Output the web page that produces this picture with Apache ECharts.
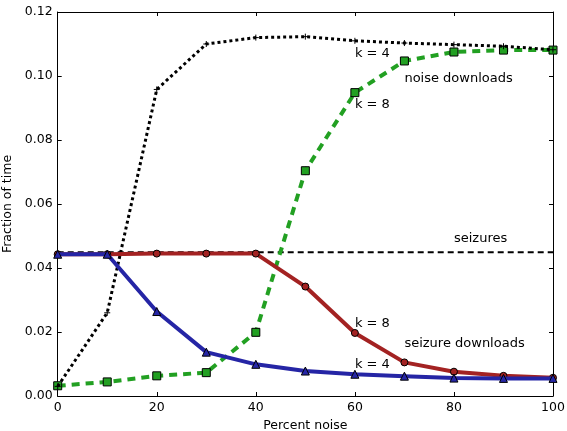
<!DOCTYPE html>
<html>
<head>
<meta charset="utf-8">
<script src="https://cdn.jsdelivr.net/npm/echarts@6/dist/echarts.min.js"></script>
<style>
html,body{margin:0;padding:0;background:#fff;}
#chart{width:567px;height:431px;}
</style>
</head>
<body>
<div id="chart"></div>
<script>
// ---- data ----
const percentNoise = [0, 10, 20, 30, 40, 50, 60, 70, 80, 90, 100];
const noiseDownloadsK4 = [0.0030, 0.0260, 0.0958, 0.1100, 0.1120, 0.1123, 0.1110, 0.1103, 0.1098, 0.1093, 0.1082];
const noiseDownloadsK8 = [0.0032, 0.0044, 0.0063, 0.0073, 0.0199, 0.0704, 0.0948, 0.1047, 0.1075, 0.1081, 0.1081];
const seizureDownloadsK8 = [0.0443, 0.0443, 0.0445, 0.0445, 0.0445, 0.0342, 0.0197, 0.0105, 0.0076, 0.0063, 0.0057];
const seizureDownloadsK4 = [0.0443, 0.0443, 0.0264, 0.0137, 0.0099, 0.0078, 0.0068, 0.0062, 0.0056, 0.0055, 0.0055];
const seizuresLevel = [0.0449, 0.0449];
const seizuresX = [0, 100];
const annotations = [
  {text: 'k = 4', x: 60, y: 0.1050},
  {text: 'noise downloads', x: 70, y: 0.0972},
  {text: 'k = 8', x: 60, y: 0.0890},
  {text: 'seizures', x: 80, y: 0.0470},
  {text: 'k = 8', x: 60, y: 0.0207},
  {text: 'seizure downloads', x: 70, y: 0.0142},
  {text: 'k = 4', x: 60, y: 0.0078}
];

const FONT = 'DejaVu Sans';
const pairs = (xs, ys) => xs.map((x, i) => [x, ys[i]]);
const plusPath = 'path://M0,5L10,5M5,0L5,10';

const chart = echarts.init(document.getElementById('chart'), null, {renderer: 'canvas'});

const axisCommon = {
  axisLine: {show: true, onZero: false, lineStyle: {color: '#000', width: 1}},
  axisTick: {show: true, inside: true, length: 4, lineStyle: {color: '#000', width: 1}},
  splitLine: {show: false}
};

const option = {
  animation: false,
  backgroundColor: '#fff',
  grid: {left: 57.7, right: 14, top: 12, bottom: 35, containLabel: false, outerBoundsMode: 'none'},
  xAxis: [
    Object.assign({}, axisCommon, {
      type: 'value', min: 0, max: 100, interval: 20, position: 'bottom',
      name: 'Percent noise', nameLocation: 'middle', nameGap: 16,
      nameTextStyle: {fontFamily: FONT, fontSize: 12.5, color: '#000'},
      axisLabel: {fontFamily: FONT, fontSize: 12.5, color: '#000', margin: 5}
    }),
    Object.assign({}, axisCommon, {
      type: 'value', min: 0, max: 100, interval: 20, position: 'top',
      axisLabel: {show: false}
    })
  ],
  yAxis: [
    Object.assign({}, axisCommon, {
      type: 'value', min: 0, max: 0.12, interval: 0.02, position: 'left',
      name: 'Fraction of time', nameLocation: 'middle', nameGap: 28,
      nameTextStyle: {fontFamily: FONT, fontSize: 12.5, color: '#000'},
      axisLabel: {fontFamily: FONT, fontSize: 12.5, color: '#000', margin: 5,
        formatter: v => v.toFixed(2)}
    }),
    Object.assign({}, axisCommon, {
      type: 'value', min: 0, max: 0.12, interval: 0.02, position: 'right',
      axisLabel: {show: false}
    })
  ],
  series: [
    {
      name: 'seizures', type: 'line', data: pairs(seizuresX, seizuresLevel),
      symbol: 'none', z: 2,
      lineStyle: {color: '#000', width: 2, type: [6, 4]}
    },
    {
      name: 'noise downloads k=8', type: 'line', data: pairs(percentNoise, noiseDownloadsK8),
      symbol: 'rect', symbolSize: 8, z: 3,
      lineStyle: {color: '#22a022', width: 4, type: [8, 6]},
      itemStyle: {color: '#22a022', borderColor: '#000', borderWidth: 1}
    },
    {
      name: 'noise downloads k=4', type: 'line', data: pairs(percentNoise, noiseDownloadsK4),
      symbol: plusPath, symbolSize: 6, z: 4,
      lineStyle: {color: '#000', width: 3, type: [3, 3]},
      itemStyle: {color: 'none', borderColor: '#000', borderWidth: 1}
    },
    {
      name: 'seizure downloads k=8', type: 'line', data: pairs(percentNoise, seizureDownloadsK8),
      symbol: 'circle', symbolSize: 7, z: 5,
      lineStyle: {color: '#a32222', width: 4},
      itemStyle: {color: '#a32222', borderColor: '#000', borderWidth: 1}
    },
    {
      name: 'seizure downloads k=4', type: 'line', data: pairs(percentNoise, seizureDownloadsK4),
      symbol: 'triangle', symbolSize: 8, z: 6,
      lineStyle: {color: '#2525a5', width: 4},
      itemStyle: {color: '#2525a5', borderColor: '#000', borderWidth: 1}
    }
  ]
};

chart.setOption(option);

const graphics = annotations.map(a => {
  const p = chart.convertToPixel({xAxisIndex: 0, yAxisIndex: 0}, [a.x, a.y]);
  return {
    type: 'text', x: p[0], y: p[1], z: 100,
    style: {text: a.text, fill: '#000', font: '13px "DejaVu Sans"', textAlign: 'left', textVerticalAlign: 'bottom'}
  };
});
chart.setOption({graphic: graphics});
</script>
</body>
</html>
